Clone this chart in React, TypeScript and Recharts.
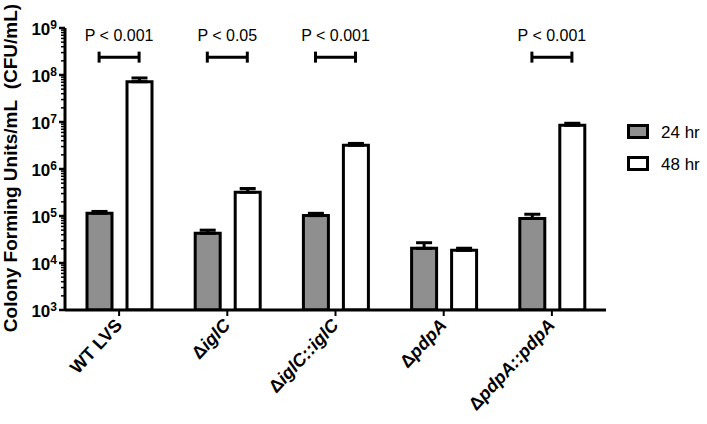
import { BarChart, Bar, XAxis, YAxis, ErrorBar, ReferenceDot, Legend, Label } from 'recharts';

// strains on the x axis
const strains = ['WT LVS', 'ΔiglC', 'ΔiglC::iglC', 'ΔpdpA', 'ΔpdpA::pdpA'];

// CFU/mL, with the upper error (SEM)
const cfu24 = [1.15e5, 4.3e4, 1.02e5, 2.05e4, 8.9e4];
const err24 = [1.0e4, 7.0e3, 1.2e4, 6.5e3, 2.0e4];
const cfu48 = [7.2e7, 3.2e5, 3.2e6, 1.86e4, 8.5e6];
const err48 = [1.45e7, 6.5e4, 3.0e5, 2.0e3, 9.0e5];

const seriesNames = ['24 hr', '48 hr'];
const seriesFills = ['#8f8f8f', '#ffffff'];

// log axis ticks
const majorTicks = [1e3, 1e4, 1e5, 1e6, 1e7, 1e8, 1e9];
const minorSteps = [2, 3, 4, 5, 6, 7, 8, 9];

// significance brackets
const sigStrains = ['WT LVS', 'ΔiglC', 'ΔiglC::iglC', 'ΔpdpA::pdpA'];
const sigLabels = ['P < 0.001', 'P < 0.05', 'P < 0.001', 'P < 0.001'];
const sigLevel = 2.4e8;

const FONT = '"Liberation Sans", Arial, sans-serif';

const data = strains.map((name, i) => ({
  name,
  h24: cfu24[i],
  e24: [0, err24[i]],
  h48: cfu48[i],
  e48: [0, err48[i]],
}));

const yTicks = [
  ...majorTicks,
  ...majorTicks.slice(0, -1).flatMap((d) => minorSteps.map((m) => d * m)),
].sort((a, b) => a - b);

const YTick = (props: any) => {
  const { x, y, payload } = props;
  const lg = Math.log10(payload.value);
  const exp = Math.round(lg);
  const major = Math.abs(lg - exp) < 1e-6;
  return (
    <g>
      <line
        x1={x - (major ? 6 : 4)}
        x2={x}
        y1={y}
        y2={y}
        stroke="#000"
        strokeWidth={major ? 2.5 : 1.5}
      />
      {major && (
        <text x={x - 8} y={y + 7} textAnchor="end" fontFamily={FONT} fontWeight="bold" fontSize={17} fill="#000">
          <tspan>10</tspan>
          <tspan dy={-6} fontSize={12}>{exp}</tspan>
        </text>
      )}
    </g>
  );
};

const XTick = (props: any) => {
  const { x, y, payload } = props;
  const label: string = payload.value;
  const delta = label.startsWith('Δ');
  const tx = x + 4;
  const ty = y + 8;
  return (
    <text
      x={tx}
      y={ty}
      transform={`rotate(-47, ${tx}, ${ty})`}
      textAnchor="end"
      fontFamily={FONT}
      fontWeight="bold"
      fontSize={18}
      fill="#000"
    >
      {delta ? (
        <>
          <tspan>Δ</tspan>
          <tspan fontStyle="italic">{label.slice(1)}</tspan>
        </>
      ) : (
        label
      )}
    </text>
  );
};

const Bracket = (label: string) => (props: any) => {
  const { cx, cy } = props;
  return (
    <g>
      <line x1={cx - 20} x2={cx + 20} y1={cy} y2={cy} stroke="#000" strokeWidth={3} />
      <line x1={cx - 20} x2={cx - 20} y1={cy - 5.5} y2={cy + 5.5} stroke="#000" strokeWidth={3} />
      <line x1={cx + 20} x2={cx + 20} y1={cy - 5.5} y2={cy + 5.5} stroke="#000" strokeWidth={3} />
      <text x={cx} y={cy - 16.5} textAnchor="middle" fontFamily={FONT} fontSize={16} fill="#000">
        {label}
      </text>
    </g>
  );
};

const renderLegend = () => (
  <svg width={87} height={65}>
    {seriesNames.map((s, i) => (
      <g key={s}>
        <rect x={8.5} y={10.5 + i * 32} width={19} height={12} fill={seriesFills[i]} stroke="#000" strokeWidth={3} />
        <text x={41} y={23 + i * 32} fontFamily={FONT} fontSize={17} fill="#000">
          {s}
        </text>
      </g>
    ))}
  </svg>
);

const renderYLabel = () => (
  <text
    x={17}
    y={168}
    transform="rotate(-90, 17, 168)"
    textAnchor="middle"
    fontFamily={FONT}
    fontWeight="bold"
    fontSize={19}
    fill="#000"
  >
    {'Colony Forming Units/mL\u00a0\u00a0(CFU/mL)'}
  </text>
);

export default function App() {
  return (
    <div style={{ position: 'absolute', left: 0, top: 0, background: '#fff' }}>
      <BarChart
        width={707}
        height={424}
        data={data}
        margin={{ top: 28, right: 14, bottom: 0, left: 0 }}
        barGap={15}
      >
        <XAxis
          dataKey="name"
          height={114}
          axisLine={{ stroke: '#000', strokeWidth: 3 }}
          tickLine={{ stroke: '#000', strokeWidth: 2 }}
          tickSize={6}
          interval={0}
          tick={<XTick />}
        />
        <YAxis
          type="number"
          scale="log"
          domain={[1e3, 1e9]}
          allowDataOverflow
          ticks={yTicks}
          interval={0}
          width={65}
          axisLine={{ stroke: '#000', strokeWidth: 3 }}
          tickLine={false}
          tickSize={0}
          tickMargin={0}
          tick={<YTick />}
        >
          <Label content={renderYLabel} />
        </YAxis>
        <Legend
          layout="vertical"
          verticalAlign="top"
          align="right"
          content={renderLegend}
          wrapperStyle={{ left: 620, top: 115, width: 87, height: 65 }}
        />
        <Bar dataKey="h24" name={seriesNames[0]} fill={seriesFills[0]} stroke="#000" strokeWidth={3} barSize={25} isAnimationActive={false}>
          <ErrorBar dataKey="e24" width={8} strokeWidth={3} stroke="#000" />
        </Bar>
        <Bar dataKey="h48" name={seriesNames[1]} fill={seriesFills[1]} stroke="#000" strokeWidth={3} barSize={25} isAnimationActive={false}>
          <ErrorBar dataKey="e48" width={8} strokeWidth={3} stroke="#000" />
        </Bar>
        {sigStrains.map((s, i) => (
          <ReferenceDot key={s} x={s} y={sigLevel} r={1} shape={Bracket(sigLabels[i])} />
        ))}
      </BarChart>
    </div>
  );
}
